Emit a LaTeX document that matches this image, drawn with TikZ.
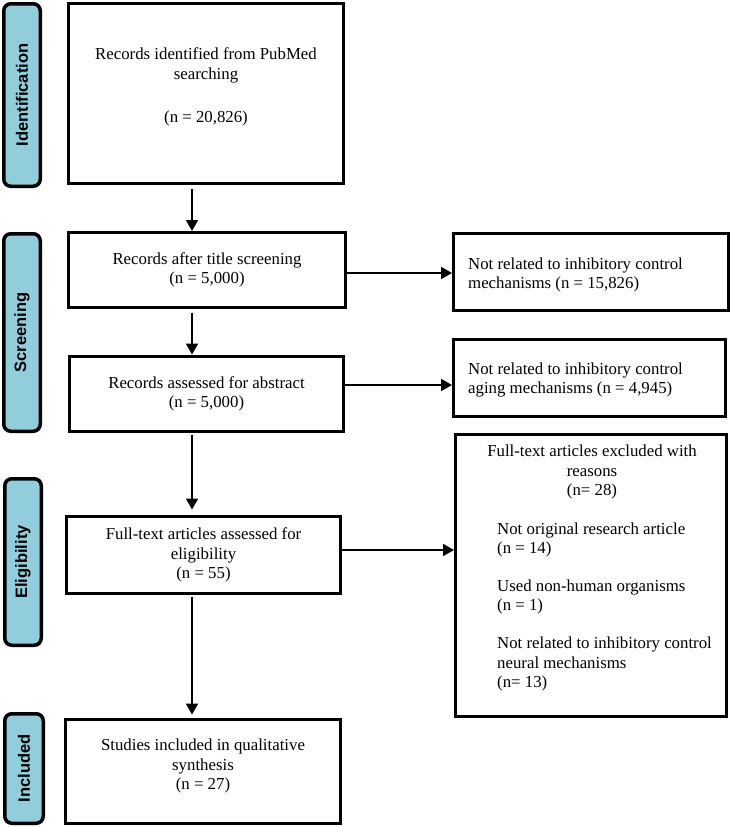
\documentclass[tikz,border=0pt]{standalone}
\usepackage{fontspec}
\setmainfont{Liberation Serif}
\setsansfont{Liberation Sans}
\usetikzlibrary{arrows.meta}
\definecolor{lblue}{HTML}{92CDDC}
\begin{document}
\begin{tikzpicture}[x=1pt,y=-1pt,
  stage/.style={draw=black, line width=3.5pt, fill=lblue, rounded corners=7pt, inner sep=0pt, outer sep=0pt},
  stagetxt/.style={rotate=90, font=\sffamily\bfseries\fontsize{16.5}{19}\selectfont, inner sep=0pt},
  box/.style={draw=black, line width=3.2pt, fill=white, inner sep=0pt, outer sep=0pt},
  txt/.style={align=center, font=\fontsize{16.8}{19.5}\selectfont, inner sep=0pt},
  ltxt/.style={align=left, anchor=west, font=\fontsize{16.8}{19.5}\selectfont, inner sep=0pt},
  arr/.style={-{Triangle[length=11pt,width=12pt]}, line width=1.8pt}
]
\useasboundingbox (0,0) rectangle (731,827);

% stage labels
\node[stage, minimum width=36.5pt, minimum height=182.5pt] (s1) at (22,95) {};
\node[stagetxt] (s1t) at (s1) {Identification};
\node[stage, minimum width=36.5pt, minimum height=197.5pt] (s2) at (22,332.5) {};
\node[stagetxt] (s2t) at (s2) {Screening};
\node[stage, minimum width=36.5pt, minimum height=166.5pt] (s3) at (23,562) {};
\node[stagetxt] (s3t) at (s3) {Eligibility};
\node[stage, minimum width=38.5pt, minimum height=109.5pt] (s4) at (24,768.5) {};
\node[stagetxt] (s4t) at (s4) {Included};

% main boxes
\node[box, minimum width=275pt, minimum height=180pt] (b1) at (206,93.5) {};
\node[txt] (b1t) at (206,87) {Records identified from PubMed\\searching\\[24pt](n = 20,826)};
\node[box, minimum width=277pt, minimum height=75pt, txt] (b2) at (207,270) {Records after title screening\\(n = 5,000)};
\node[box, minimum width=274pt, minimum height=75pt, txt] (b3) at (206.5,394) {Records assessed for abstract\\(n = 5,000)};
\node[box, minimum width=274pt, minimum height=77pt, txt] (b4) at (203.5,555) {Full-text articles assessed for\\eligibility\\(n = 55)};
\node[box, minimum width=275pt, minimum height=104pt] (b5) at (203,771.5) {};
\node[txt] (b5t) at (203,766) {Studies included in qualitative\\synthesis\\(n = 27)};

% right boxes
\node[box, minimum width=275pt, minimum height=77pt] (r1) at (591,272) {};
\node[ltxt] (r1t) at (468,275) {Not related to inhibitory control\\mechanisms (n = 15,826)};
\node[box, minimum width=272pt, minimum height=77pt] (r2) at (589.5,378) {};
\node[ltxt] (r2t) at (468,380) {Not related to inhibitory control\\aging mechanisms (n = 4,945)};
\node[box, minimum width=271pt, minimum height=282pt] (r3) at (591,575.5) {};
\node[txt] (r3h) at (592,472) {Full-text articles excluded with\\reasons\\(n= 28)};
\node[ltxt] (r3a) at (497,540) {Not original research article\\(n = 14)};
\node[ltxt] (r3b) at (497,597) {Used non-human organisms\\(n = 1)};
\node[ltxt] (r3c) at (497,664) {Not related to inhibitory control\\neural mechanisms\\(n= 13)};

% vertical arrows
\coordinate (ax) at (192,0);
\draw[arr, shorten <=5pt, shorten >=1.5pt] (b1.south -| ax) -- (b2.north -| ax);
\draw[arr, shorten <=5pt, shorten >=2pt] (b2.south -| ax) -- (b3.north -| ax);
\draw[arr, shorten <=3pt, shorten >=7pt] (b3.south -| ax) -- (b4.north -| ax);
\draw[arr, shorten <=3pt, shorten >=5pt] (b4.south -| ax) -- (b5.north -| ax);

% horizontal arrows
\coordinate (h1) at ([yshift=-3pt]b2.east);
\draw[arr, shorten >=1.5pt] (h1) -- (h1 -| r1.west);
\coordinate (h2) at ([yshift=9pt]b3.east);
\draw[arr, shorten >=1.5pt] (h2) -- (h2 -| r2.west);
\coordinate (h3) at ([yshift=5pt]b4.east);
\draw[arr, shorten >=1.5pt] (h3) -- (h3 -| r3.west);
\end{tikzpicture}
\end{document}
